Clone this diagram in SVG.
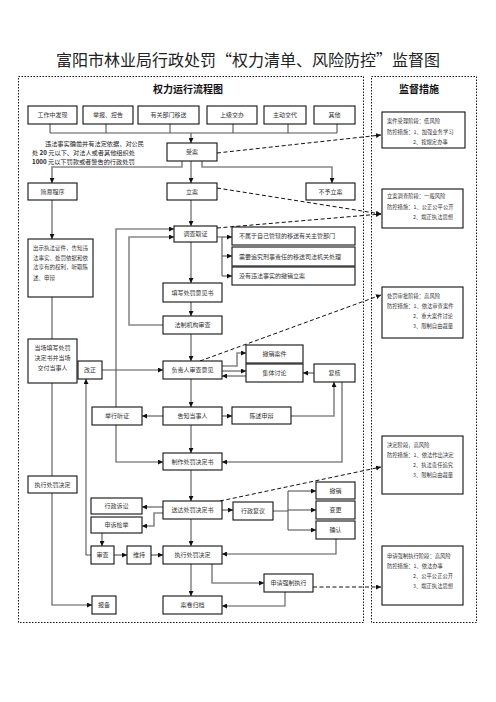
<svg xmlns="http://www.w3.org/2000/svg" width="496" height="702" viewBox="0 0 496 702">
<defs>
<marker id="a" viewBox="0 0 6 6" refX="6" refY="3" markerWidth="5" markerHeight="5" markerUnits="userSpaceOnUse" orient="auto"><path d="M0,0 L6,3 L0,6 z" fill="#111"/></marker>
</defs>
<style>
text{font-family:"Noto Sans CJK SC","Noto Sans",sans-serif;}
.t{font-size:16px;fill:#222;text-anchor:middle;}
.h{font-size:10px;font-weight:bold;fill:#111;text-anchor:middle;}
.panel{fill:none;stroke:#111;stroke-width:1;stroke-dasharray:1.5 1.5;}
.node rect{fill:#fff;stroke:#111;stroke-width:1.1;}
.node text{font-size:6px;fill:#333;text-anchor:middle;}
.node .s{font-size:5.5px;text-anchor:start;}
.m rect{fill:#fff;stroke:#111;stroke-width:1.1;}
.m text{font-size:5.3px;fill:#333;}
.lt{font-size:6.2px;fill:#222;}
.c path{fill:none;stroke:#555;stroke-width:1.1;}
.c .g{stroke:#888;stroke-width:1.6;}
.c .ar{marker-end:url(#a);}
.d path{fill:none;stroke:#111;stroke-width:1;stroke-dasharray:4 2.5;marker-end:url(#a);}
</style>
<rect width="496" height="702" fill="#fff"/>
<text class="t" x="248" y="66">富阳市林业局行政处罚“权力清单、风险防控”监督图</text>
<rect class="panel" x="18.5" y="76.5" width="345" height="546"/>
<rect class="panel" x="371.5" y="76.5" width="105" height="546"/>
<text class="h" x="188" y="93">权力运行流程图</text>
<text class="h" x="419" y="93">监督措施</text>

<text class="lt" x="45" y="146">违法事实确凿并有法定依据，对公民</text>
<text class="lt" x="32" y="155">处 <tspan font-weight="bold">20</tspan> 元以下、对法人或者其他组织处</text>
<text class="lt" x="32" y="164"><tspan font-weight="bold">1000</tspan> 元以下罚款或者警告的行政处罚</text>

<g class="c">
<path d="M50,124V133M106,124V133M170,124V133M233,124V133M288,124V133M337,124V133M50,133H337"/>
<path class="ar" d="M191,133V143"/>
<path class="g ar" d="M182,161V167H52V183"/>
<path class="g ar" d="M202,161V167H332V183"/>
<path class="ar" d="M191,161V183"/>
<path class="g ar" d="M52,200V239"/>
<path class="ar" d="M191,200V226"/>
<path d="M217,237H222V276"/>
<path class="ar" d="M222,237H232"/>
<path class="ar" d="M222,256H232"/>
<path class="ar" d="M222,276H232"/>
<path class="ar" d="M191,242V283"/>
<path class="ar" d="M191,302V316"/>
<path class="g ar" d="M163,325H129V237H174"/>
<path class="g ar" d="M116,407V229H174"/>
<path class="ar" d="M191,334V361"/>
<path class="g ar" d="M222,366H237V353H246"/>
<path class="g ar" d="M222,371H246"/>
<path class="ar" d="M246,376H222"/>
<path class="ar" d="M314,373H303"/>
<path class="ar" d="M102,370H163"/>
<path class="ar" d="M91,555H86V379"/>
<path class="ar" d="M191,379V407"/>
<path class="ar" d="M163,416H142"/>
<path class="ar" d="M222,416H232"/>
<path class="g ar" d="M291,416H334V382"/>
<path class="g ar" d="M342,382V462H222"/>
<path class="ar" d="M116,425V462H163"/>
<path class="ar" d="M191,425V453"/>
<path d="M52,297V339"/>
<path d="M52,383V476"/>
<path class="ar" d="M52,493V605H92"/>
<path class="ar" d="M191,470V501"/>
<path class="g ar" d="M163,507H142"/>
<path class="g ar" d="M163,513H154V526H142"/>
<path class="ar" d="M102,533V546"/>
<path class="ar" d="M114,555H127"/>
<path class="ar" d="M151,555H163"/>
<path class="ar" d="M222,510H233"/>
<path d="M273,511H288M288,491V530"/>
<path class="ar" d="M288,491H316"/>
<path class="ar" d="M288,510H316"/>
<path class="ar" d="M288,530H316"/>
<path class="ar" d="M336,539V554H222"/>
<path class="ar" d="M191,519V546"/>
<path class="ar" d="M191,564V596"/>
<path class="g ar" d="M212,564V583H264"/>
<path class="ar" d="M285,592V606H222"/>
</g>
<g class="d">
<path d="M217,153L381,135"/>
<path d="M217,188L381,214"/>
<path d="M217,228L381,214"/>
<path d="M200,361L381,295"/>
<path d="M220,501L381,467"/>
<path d="M313,587H381"/>
</g>

<g class="node" id="n1"><rect x="28" y="106" width="49" height="18"/><text x="52.5" y="117">工作中发现</text></g>
<g class="node" id="n2"><rect x="83" y="106" width="50" height="18"/><text x="108" y="117">举报、控告</text></g>
<g class="node" id="n3"><rect x="138" y="106" width="61" height="18"/><text x="168.5" y="117">有关部门移送</text></g>
<g class="node" id="n4"><rect x="207" y="106" width="50" height="18"/><text x="232" y="117">上级交办</text></g>
<g class="node" id="n5"><rect x="264" y="106" width="42" height="18"/><text x="285" y="117">主动交代</text></g>
<g class="node" id="n6"><rect x="314" y="106" width="41" height="18"/><text x="334.5" y="117">其他</text></g>
<g class="node" id="shouan"><rect x="167" y="143" width="50" height="18"/><text x="192" y="154">受案</text></g>
<g class="node" id="lian"><rect x="167" y="183" width="50" height="17"/><text x="192" y="193.5">立案</text></g>
<g class="node" id="buyulian"><rect x="306" y="183" width="49" height="17"/><text x="330.5" y="193.5">不予立案</text></g>
<g class="node" id="jianyi"><rect x="28" y="183" width="49" height="17"/><text x="52.5" y="193.5">简易程序</text></g>
<g class="node" id="diaocha"><rect x="174" y="226" width="43" height="16"/><text x="195.5" y="236">调查取证</text></g>
<g class="node" id="ys1"><rect x="232" y="227" width="123" height="18"/><text x="239" y="238" style="text-anchor:start">不属于自己管辖的移送有关主管部门</text></g>
<g class="node" id="ys2"><rect x="232" y="247" width="123" height="19"/><text x="239" y="258.5" style="text-anchor:start">需要追究刑事责任的移送司法机关处理</text></g>
<g class="node" id="cxla"><rect x="232" y="267" width="123" height="18"/><text x="239" y="278" style="text-anchor:start">没有违法事实的撤销立案</text></g>
<g class="node" id="chushi"><rect x="28" y="239" width="65" height="58"/>
<text class="s" x="33" y="250">出示执法证件，告知违</text>
<text class="s" x="33" y="259.5">法事实、处罚依据和依</text>
<text class="s" x="33" y="269">法享有的权利，听取陈</text>
<text class="s" x="33" y="279.5">述、申辩</text></g>
<g class="node" id="tianxie"><rect x="163" y="283" width="59" height="19"/><text x="192.5" y="294.5">填写处罚意见书</text></g>
<g class="node" id="fazhi"><rect x="163" y="316" width="59" height="18"/><text x="192.5" y="327">法制机构审查</text></g>
<g class="node" id="dangchang"><rect x="28" y="339" width="49" height="44"/>
<text x="52.5" y="350">当场填写处罚</text>
<text x="52.5" y="360">决定书并当场</text>
<text x="52.5" y="370">交付当事人</text></g>
<g class="node" id="gaizheng"><rect x="78" y="361" width="24" height="18"/><text x="90" y="372">改正</text></g>
<g class="node" id="fuzeren"><rect x="163" y="361" width="59" height="18"/><text x="192.5" y="372">负责人审查意见</text></g>
<g class="node" id="cxaj"><rect x="246" y="345" width="57" height="18"/><text x="274.5" y="356">撤销案件</text></g>
<g class="node" id="jiti"><rect x="246" y="364" width="57" height="18"/><text x="274.5" y="375">集体讨论</text></g>
<g class="node" id="fuhe"><rect x="314" y="364" width="41" height="18"/><text x="334.5" y="375">复核</text></g>
<g class="node" id="tingzheng"><rect x="92" y="407" width="50" height="18"/><text x="117" y="418">举行听证</text></g>
<g class="node" id="gaozhi"><rect x="163" y="407" width="59" height="18"/><text x="192.5" y="418">告知当事人</text></g>
<g class="node" id="chenshu"><rect x="232" y="407" width="59" height="17"/><text x="261.5" y="417.5">陈述申辩</text></g>
<g class="node" id="zhizuo"><rect x="163" y="453" width="59" height="17"/><text x="192.5" y="463.5">制作处罚决定书</text></g>
<g class="node" id="zhixingL"><rect x="28" y="476" width="49" height="17"/><text x="52.5" y="486.5">执行处罚决定</text></g>
<g class="node" id="songda"><rect x="163" y="501" width="59" height="18"/><text x="192.5" y="512">送达处罚决定书</text></g>
<g class="node" id="susong"><rect x="91" y="498" width="51" height="16"/><text x="116.5" y="508">行政诉讼</text></g>
<g class="node" id="shensu"><rect x="91" y="517" width="51" height="16"/><text x="116.5" y="527">申诉检举</text></g>
<g class="node" id="fuyi"><rect x="233" y="502" width="40" height="18"/><text x="253" y="513">行政复议</text></g>
<g class="node" id="chexiao"><rect x="316" y="482" width="39" height="17"/><text x="335.5" y="492.5">撤销</text></g>
<g class="node" id="biangeng"><rect x="316" y="501" width="39" height="18"/><text x="335.5" y="512">变更</text></g>
<g class="node" id="queren"><rect x="316" y="521" width="39" height="18"/><text x="335.5" y="532">确认</text></g>
<g class="node" id="shencha"><rect x="91" y="546" width="23" height="18"/><text x="102.5" y="557">审查</text></g>
<g class="node" id="weichi"><rect x="127" y="546" width="24" height="18"/><text x="139" y="557">维持</text></g>
<g class="node" id="zhixing"><rect x="163" y="546" width="59" height="18"/><text x="192.5" y="557">执行处罚决定</text></g>
<g class="node" id="qiangzhi"><rect x="264" y="574" width="49" height="18"/><text x="288.5" y="585">申请强制执行</text></g>
<g class="node" id="baobei"><rect x="92" y="596" width="24" height="18"/><text x="104" y="607">报备</text></g>
<g class="node" id="guidang"><rect x="163" y="596" width="59" height="18"/><text x="192.5" y="607">案卷归档</text></g>

<g class="m" id="m1"><rect x="382" y="112" width="83" height="36"/>
<text x="387" y="123">案件受理阶段：低风险</text>
<text x="387" y="133.5">防控措施：1、加强业务学习</text>
<text x="413" y="144">2、按规定办事</text></g>
<g class="m" id="m2"><rect x="382" y="189" width="81" height="39"/>
<text x="387" y="198">立案调查阶段：一般风险</text>
<text x="387" y="208.5">防控措施：1、公正公平公开</text>
<text x="413" y="219">2、端正执法思想</text></g>
<g class="m" id="m3"><rect x="382" y="287" width="81" height="51"/>
<text x="387" y="298">处罚审批阶段：高风险</text>
<text x="387" y="308">防控措施：1、依法审查案件</text>
<text x="413" y="318">2、重大案件讨论</text>
<text x="413" y="328">3、限制自由裁量</text></g>
<g class="m" id="m4"><rect x="382" y="436" width="81" height="58"/>
<text x="387" y="447">决定阶段，高风险</text>
<text x="387" y="457">防控措施：1、依法作出决定</text>
<text x="413" y="467">2、执法责任追究</text>
<text x="413" y="477">3、限制自由裁量</text></g>
<g class="m" id="m5"><rect x="382" y="546" width="81" height="59"/>
<text x="387" y="558">申请强制执行阶段：高风险</text>
<text x="387" y="568">防控措施：1、依法办事</text>
<text x="413" y="578">2、公平公正公开</text>
<text x="413" y="588">3、端正执法思想</text></g>
</svg>
